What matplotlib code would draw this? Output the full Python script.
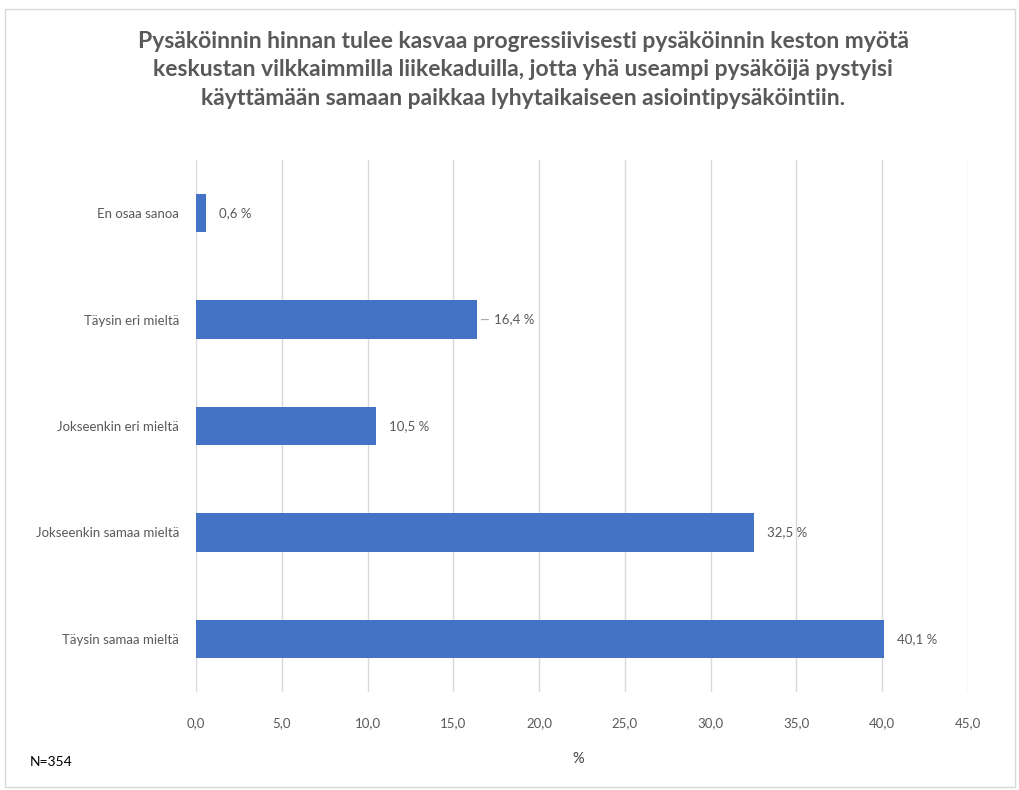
import matplotlib.pyplot as plt
from matplotlib.patches import Rectangle

categories = ["En osaa sanoa", "Täysin eri mieltä", "Jokseenkin eri mieltä",
              "Jokseenkin samaa mieltä", "Täysin samaa mieltä"]
values = [0.6, 16.4, 10.5, 32.5, 40.1]
x_ticks = [0, 5, 10, 15, 20, 25, 30, 35, 40, 45]

title = ("Pysäköinnin hinnan tulee kasvaa progressiivisesti pysäköinnin keston myötä\n"
         "keskustan vilkkaimmilla liikekaduilla, jotta yhä useampi pysäköijä pystyisi\n"
         "käyttämään samaan paikkaa lyhytaikaiseen asiointipysäköintiin.")

plt.rcParams["font.family"] = ["Lato", "DejaVu Sans"]
TEXT = "#595959"
BAR = "#4472C4"
GRID = "#d9d9d9"

fig = plt.figure(figsize=(10.2, 7.9), dpi=100)
# light chart border
fig.patches.append(Rectangle((0.005, 0.004), 0.99, 0.985, transform=fig.transFigure,
                             fill=False, edgecolor="#d9d9d9", linewidth=1.0))

ax = fig.add_axes([196 / 1020, 1 - 692 / 790, (968 - 196) / 1020, (692 - 160) / 790])

y = list(range(len(categories)))
ax.barh(y, values, height=0.36, color=BAR, zorder=3)
ax.set_ylim(len(categories) - 0.5, -0.5)
ax.set_xlim(0, 45)
ax.set_xticks(x_ticks)
ax.set_xticklabels([f"{t:.1f}".replace(".", ",") for t in x_ticks], color=TEXT, fontsize=9.5)
ax.set_yticks(y)
ax.set_yticklabels(categories, color=TEXT, fontsize=9.5)
ax.tick_params(axis="both", length=0)
ax.tick_params(axis="x", pad=18)
ax.tick_params(axis="y", pad=12)
ax.grid(axis="x", color=GRID, linewidth=1.0, zorder=0)
for s in ax.spines.values():
    s.set_visible(False)

for yi, v in zip(y, values):
    label = f"{v:.1f} %".replace(".", ",")
    if v == 16.4:
        # Excel-style leader line on this label
        ax.annotate(label, xy=(v, yi), xytext=(12, 0), textcoords="offset points",
                    va="center", ha="left", color=TEXT, fontsize=9.5,
                    arrowprops=dict(arrowstyle="-", color="#a6a6a6", linewidth=0.8,
                                    shrinkA=2, shrinkB=3))
    else:
        ax.annotate(label, xy=(v, yi), xytext=(9.5, 0), textcoords="offset points",
                    va="center", ha="left", color=TEXT, fontsize=9.5)

fig.text(0.513, 1 - 70 / 790, title, ha="center", va="center", fontsize=16.5,
         fontweight="bold", color=TEXT, linespacing=1.42)
fig.text(578 / 1020, 1 - 759 / 790, "%", ha="center", va="center", fontsize=10.5, color="#404040")
fig.text(30 / 1020, 1 - 762 / 790, "N=354", ha="left", va="center", fontsize=10, color="#000000")

fig.savefig("out.png", dpi=100)
